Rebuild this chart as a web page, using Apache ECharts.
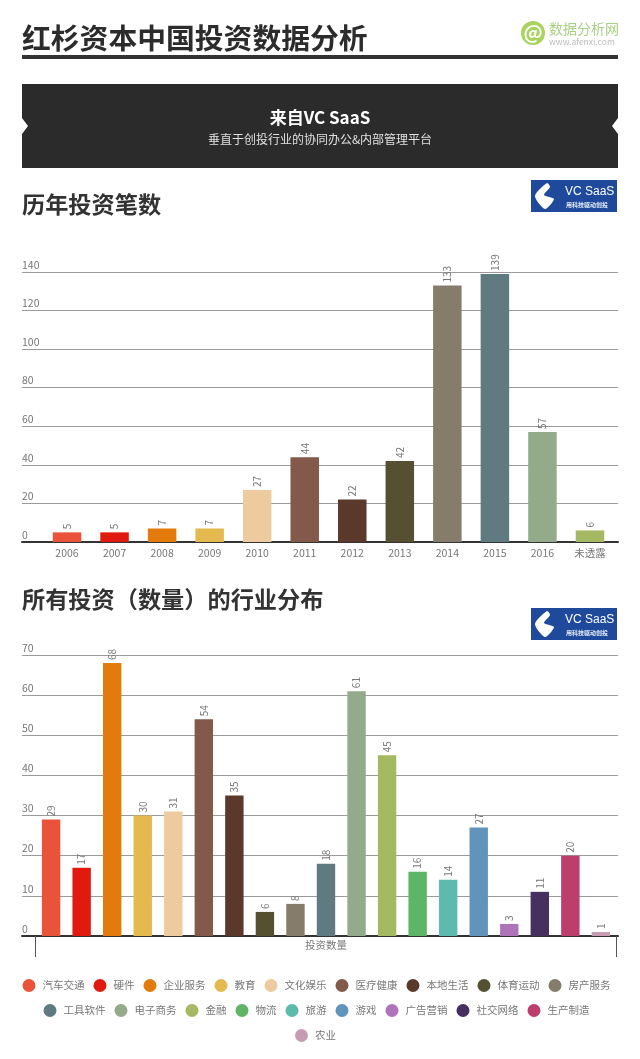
<!DOCTYPE html>
<html><head><meta charset="utf-8">
<style>html,body{margin:0;padding:0;background:#fff}#c{width:640px;height:1059px}</style>
<script src="https://cdn.jsdelivr.net/npm/echarts@6/dist/echarts.min.js"></script>
</head><body><div id="c"></div>
<script>
const years = ['2006','2007','2008','2009','2010','2011','2012','2013','2014','2015','2016','未透露'];
const yearValues = [5,5,7,7,27,44,22,42,133,139,57,6];
const industries = ['汽车交通','硬件','企业服务','教育','文化娱乐','医疗健康','本地生活','体育运动','房产服务','工具软件','电子商务','金融','物流','旅游','游戏','广告营销','社交网络','生产制造','农业'];
const industryValues = [29,17,68,30,31,54,35,6,8,18,61,45,16,14,27,3,11,20,1];
const palette = ['#E8533A','#E01A0F','#E27B0C','#E3B950','#EECB9F','#83594A','#5A392B','#565032','#857C6C','#5F7A80','#93AB8A','#A4B961','#5DB565','#5EBAAD','#6194BC','#AF73BA','#463060','#BC3E6C','#C69CB2'];
const legendRows = [industries.slice(0,9), industries.slice(9,18), industries.slice(18)];
const legendLefts = [22.5,43.5,295];
const industryAxisName = ['投资数量'];

const FONT = '"Noto Sans CJK SC","Noto Sans",sans-serif';
const GREY = '#777';
const valueLabel = {show:true,position:'top',rotate:90,align:'left',verticalAlign:'middle',distance:3,color:GREY,fontSize:10,fontFamily:FONT};
const noAxis = {show:false};
const yBack = (gridIndex,max,interval)=>({type:'value',gridIndex,min:0,max,interval,
  axisLine:{show:false},axisTick:{show:false},
  axisLabel:{inside:true,margin:0,verticalAlign:'bottom',color:GREY,fontSize:10.5,fontFamily:FONT,padding:[0,0,2,0]},
  splitLine:{show:true,lineStyle:{color:'#9a9a9a',width:1}}});
const xBack = (gridIndex)=>({type:'category',gridIndex,data:[''],axisTick:{show:false},axisLabel:{show:false},
  axisLine:{show:true,lineStyle:{color:'#333',width:2}},splitLine:{show:false}});

const txt = (x,y,text,fontSize,fill,fontWeight,textAlign,fontFamily)=>({type:'text',x,y,silent:true,style:{text,fontSize,fill,fontWeight:fontWeight||'normal',fontFamily:fontFamily||FONT,align:textAlign||'left',verticalAlign:'middle'}});
const logo = (y)=>[
  {type:'rect',shape:{x:531,y,width:86,height:32},style:{fill:'#1F4A9C'},silent:true},
  {type:'polygon',shape:{smooth:0.25,points:[[547,y+3],[535,y+16],[545,y+29],[554,y+19],[544,y+15],[550,y+7]]},style:{fill:'#fff'},silent:true},
  txt(565,y+12,'VC SaaS',12,'#fff','normal','left','"Liberation Sans",sans-serif'),
  txt(566,y+25,'用科技驱动创投',6,'#e6ecf7','bold')
];
const graphic = [
  txt(22,38,'红杉资本中国投资数据分析',28.8,'#2c2c2c','bold'),
  {type:'rect',shape:{x:22,y:55,width:596,height:4},style:{fill:'#333'},silent:true},
  {type:'circle',shape:{cx:533,cy:33,r:12},style:{fill:'#A8D35C'},silent:true},
  txt(533,32,'@',19,'#fff','bold','center'),
  txt(549,29,'数据分析网',14,'#A9D083'),
  txt(549,42,'www.afenxi.com',8.5,'#bbb'),
  {type:'rect',shape:{x:22,y:84,width:596,height:84},style:{fill:'#2C2B2B'},silent:true},
  {type:'polygon',shape:{points:[[22,118],[28,126],[22,134]]},style:{fill:'#fff'},silent:true},
  {type:'polygon',shape:{points:[[618,118],[612,126],[618,134]]},style:{fill:'#fff'},silent:true},
  txt(320,118,'来自VC SaaS',17,'#fff','bold','center'),
  txt(320,139,'垂直于创投行业的协同办公&内部管理平台',12,'#e0e0e0','normal','center'),
  txt(22,204,'历年投资笔数',23.2,'#333','bold'),
  txt(22,599,'所有投资（数量）的行业分布',23.2,'#333','bold'),
  ...logo(180),...logo(608)
];

const option = {
  animation:false,backgroundColor:'#fff',textStyle:{fontFamily:FONT},
  graphic,
  grid:[
    {left:22,width:596,top:272,height:270},
    {left:43.25,width:570.5,top:272,height:270},
    {left:22,width:596,top:655,height:281},
    {left:35.5,width:581,top:655,height:281}
  ],
  xAxis:[
    xBack(0),
    {type:'category',gridIndex:1,data:years,axisLine:noAxis,axisTick:noAxis,
      axisLabel:{color:GREY,fontSize:10.5,margin:6,interval:0,fontFamily:FONT}},
    xBack(2),
    {type:'category',gridIndex:3,data:industryAxisName,
      axisLine:noAxis,axisTick:{show:true,length:21,alignWithLabel:false,lineStyle:{color:'#555'}},
      axisLabel:{color:GREY,fontSize:10.5,margin:4,fontFamily:FONT}}
  ],
  yAxis:[
    yBack(0,140,20),
    {type:'value',gridIndex:1,min:0,max:140,interval:20,show:false},
    yBack(2,70,10),
    {type:'value',gridIndex:3,min:0,max:70,interval:10,show:false}
  ],
  legend:legendRows.map((data,i)=>({
    data,left:legendLefts[i],top:979+i*25,padding:0,itemWidth:13,itemHeight:13,itemGap:9,icon:'circle',selectedMode:false,
    textStyle:{color:GREY,fontSize:10.5,fontFamily:FONT,padding:[0,0,0,2]}
  })),
  series:[
    {type:'bar',name:'历年投资笔数',xAxisIndex:1,yAxisIndex:1,barWidth:28.5,label:valueLabel,
     data:yearValues.map((value,i)=>({value,itemStyle:{color:palette[i]}}))},
    ...industries.map((name,i)=>({type:'bar',name,xAxisIndex:3,yAxisIndex:3,barWidth:18.4,barGap:'66%',
      itemStyle:{color:palette[i]},label:valueLabel,data:[industryValues[i]]}))
  ]
};
const chart = echarts.init(document.getElementById('c'),null,{renderer:'canvas',width:640,height:1059});
chart.setOption(option);
</script></body></html>
